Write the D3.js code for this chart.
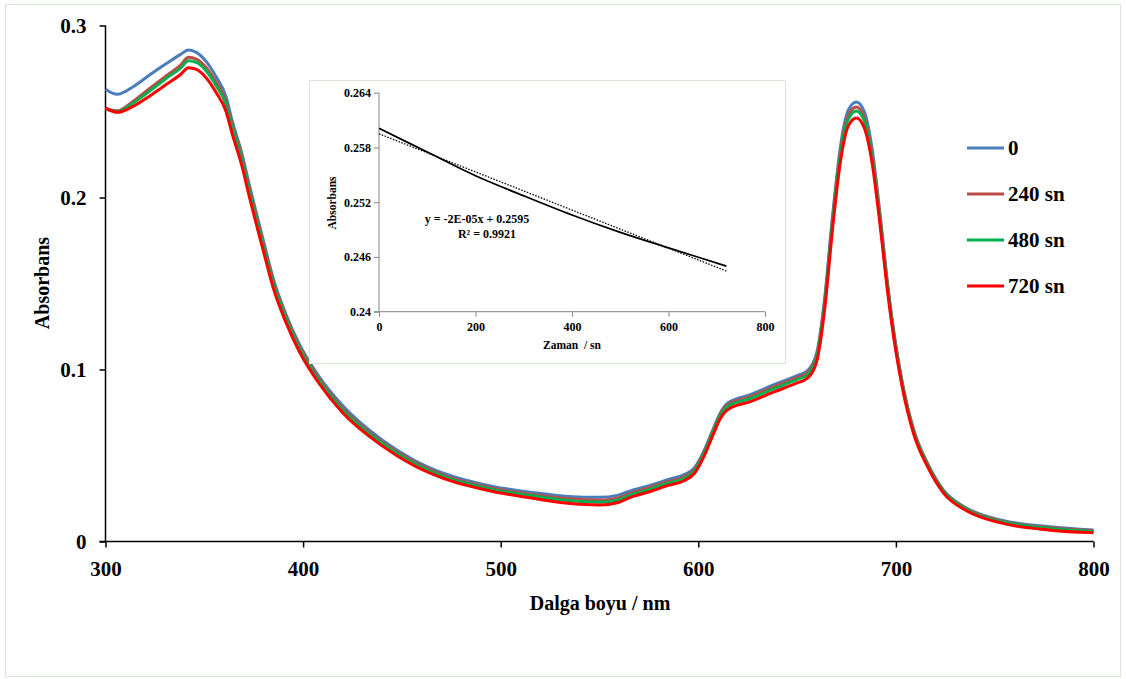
<!DOCTYPE html>
<html>
<head>
<meta charset="utf-8">
<script src="https://cdn.jsdelivr.net/npm/d3@7"></script>
<style>
  body { margin: 0; background: #fff; }
  svg text { font-family: "Liberation Serif", "Times New Roman", serif; font-weight: bold; fill: #000; }
</style>
</head>
<body>
<div id="chart"></div>
<script>
// wavelengths (nm)
var wavelengths = [300, 306, 314, 323, 331, 338, 342, 346, 351, 356, 361, 364, 369, 373, 377, 381, 385, 391, 398, 408,
    420, 440, 456, 471, 496, 517, 534, 550, 559, 567, 576, 584, 593, 598, 603, 608, 611, 615, 626, 638,
    650, 655, 660, 664, 668, 672, 676, 680, 684, 688, 692, 696, 700, 703, 709, 716, 724, 736, 753, 778, 800];

// absorbance, one array per time
var abs0 = [.2630, .2600, .2644, .2718, .2780, .2832, .2858, .2844, .2790, .2702, .2586, .2451, .2257, .2063, .1880, .1700, .1525, .1330, .1150, .0960,
    .0790, .0590, .0474, .0397, .0320, .0284, .0262, .0257, .0268, .0300, .0328, .0358, .0390, .0428, .0530, .0667, .0745, .0805, .0852, .0910,
    .0965, .0990, .1100, .1420, .1900, .2300, .2510, .2555, .2500, .2280, .1900, .1480, .1140, .0940, .0650, .0455, .0300, .0193, .0125, .0086, .0067];
var abs240 = [.2518, .2505, .2560, .2640, .2710, .2770, .2815, .2805, .2755, .2670, .2560, .2430, .2238, .2045, .1862, .1683, .1510, .1318, .1138, .0947,
    .0775, .0578, .0463, .0386, .0310, .0272, .0248, .0240, .0252, .0286, .0316, .0346, .0378, .0418, .0522, .0660, .0737, .0795, .0840, .0898,
    .0953, .0978, .1085, .1400, .1880, .2275, .2480, .2526, .2465, .2250, .1880, .1465, .1130, .0932, .0643, .0450, .0296, .0189, .0120, .0080, .0062];
var abs480 = [.2515, .2500, .2550, .2625, .2695, .2752, .2795, .2785, .2735, .2650, .2540, .2412, .2220, .2028, .1845, .1668, .1496, .1305, .1126, .0937,
    .0765, .0570, .0455, .0379, .0303, .0264, .0238, .0228, .0240, .0276, .0306, .0337, .0369, .0409, .0514, .0652, .0728, .0786, .0830, .0887,
    .0942, .0968, .1072, .1385, .1860, .2255, .2458, .2503, .2445, .2232, .1865, .1455, .1122, .0925, .0638, .0446, .0292, .0185, .0116, .0076, .0058];
var abs720 = [.2520, .2495, .2530, .2595, .2660, .2715, .2755, .2745, .2695, .2610, .2500, .2375, .2185, .1995, .1815, .1640, .1470, .1282, .1106, .0920,
    .0748, .0556, .0442, .0367, .0291, .0250, .0222, .0212, .0225, .0262, .0292, .0323, .0355, .0395, .0498, .0635, .0712, .0768, .0812, .0868,
    .0922, .0948, .1050, .1355, .1825, .2215, .2418, .2462, .2405, .2198, .1838, .1432, .1105, .0910, .0625, .0435, .0283, .0177, .0108, .0066, .0051];

var seriesNames = ["0", "240 sn", "480 sn", "720 sn"];
var seriesColors = ["#4a7ebb", "#be4b48", "#00b050", "#ff0000"];
var xTicks = [300, 400, 500, 600, 700, 800];
var yTicks = [0, 0.1, 0.2, 0.3];

// inset: absorbance vs time
var insetTime = [0, 100, 200, 300, 400, 500, 600, 720];
var insetAbs = [0.2601, 0.2575, 0.2549, 0.2527, 0.2506, 0.2487, 0.2470, 0.2450];
var trendIntercept = 0.2595, trendSlope = -0.0000209;
var insetXTicks = [0, 200, 400, 600, 800];
var insetYTicks = [0.24, 0.246, 0.252, 0.258, 0.264];

var W = 1126, H = 679;
var svg = d3.select("#chart").append("svg").attr("width", W).attr("height", H);

svg.append("rect")
    .attr("x", 5.5).attr("y", 4.5).attr("width", 1115).attr("height", 672)
    .attr("fill", "#fff").attr("stroke", "#dbe6d4").attr("stroke-width", 1);

var x = d3.scaleLinear().domain([300, 800]).range([105.5, 1093.5]);
var y = d3.scaleLinear().domain([0, 0.3]).range([541.5, 25.5]);

// axes
var yAxis = svg.append("g").attr("transform", "translate(105.5,0)")
    .call(d3.axisLeft(y).tickValues(yTicks).tickSize(6).tickPadding(13)
        .tickFormat(function (d) { return d === 0 ? "0" : d3.format(".1f")(d); }));
var xAxis = svg.append("g").attr("transform", "translate(0,541.5)")
    .call(d3.axisBottom(x).tickValues(xTicks).tickSize(6).tickPadding(14).tickFormat(d3.format("d")));
[xAxis, yAxis].forEach(function (g) {
    g.select(".domain").attr("stroke", "#000").attr("stroke-width", 1.5);
    g.selectAll(".tick line").attr("stroke", "#000").attr("stroke-width", 1.5);
    g.selectAll(".tick text").style("font-size", "21px");
});
yAxis.select(".domain").attr("d", "M0,25.5V541.5");
xAxis.select(".domain").attr("d", "M99.5,0H1093.5");

svg.append("text").attr("transform", "translate(49,283) rotate(-90)")
    .attr("text-anchor", "middle").style("font-size", "20px").text("Absorbans");
svg.append("text").attr("x", 600).attr("y", 610)
    .attr("text-anchor", "middle").style("font-size", "20px").text("Dalga boyu / nm");

// spectra
var allAbs = [abs0, abs240, abs480, abs720];
var line = d3.line()
    .x(function (d) { return x(d[0]); })
    .y(function (d) { return y(d[1]); })
    .curve(d3.curveMonotoneX);
allAbs.forEach(function (vals, i) {
    var pts = wavelengths.map(function (w, j) { return [w, vals[j]]; });
    svg.append("path").datum(pts)
        .attr("d", line)
        .attr("fill", "none")
        .attr("stroke", seriesColors[i])
        .attr("stroke-width", 3)
        .attr("stroke-linejoin", "round");
});

// legend
var legend = svg.append("g");
seriesNames.forEach(function (name, i) {
    var ly = 148 + i * 46;
    legend.append("line").attr("x1", 967).attr("x2", 1004).attr("y1", ly).attr("y2", ly)
        .attr("stroke", seriesColors[i]).attr("stroke-width", 3);
    legend.append("text").attr("x", 1008).attr("y", ly + 7).style("font-size", "21px").text(name);
});

// INSET
var inset = svg.append("g");
inset.append("rect").attr("x", 309.5).attr("y", 80.5).attr("width", 476).attr("height", 283)
    .attr("fill", "#fff").attr("stroke", "#dbe6d4").attr("stroke-width", 1);

var ix = d3.scaleLinear().domain([0, 800]).range([379, 765]);
var iy = d3.scaleLinear().domain([0.24, 0.264]).range([311.7, 92.7]);

var iyAxis = inset.append("g").attr("transform", "translate(379,0)")
    .call(d3.axisLeft(iy).tickValues(insetYTicks).tickSize(5).tickPadding(3)
        .tickFormat(function (d) { return d3.format(".3~f")(d); }));
var ixAxis = inset.append("g").attr("transform", "translate(0,311.7)")
    .call(d3.axisBottom(ix).tickValues(insetXTicks).tickSize(5).tickPadding(6).tickFormat(d3.format("d")));
[iyAxis, ixAxis].forEach(function (g) {
    g.select(".domain").attr("stroke", "#868686").attr("stroke-width", 1);
    g.selectAll(".tick line").attr("stroke", "#868686").attr("stroke-width", 1);
    g.selectAll(".tick text").style("font-size", "12px");
});
iyAxis.select(".domain").attr("d", "M0,92.7V311.7");
ixAxis.select(".domain").attr("d", "M374,0H765");

inset.append("text").attr("transform", "translate(336,203) rotate(-90)")
    .attr("text-anchor", "middle").style("font-size", "11.5px").text("Absorbans");
inset.append("text").attr("x", 572).attr("y", 349)
    .attr("text-anchor", "middle").style("font-size", "11.5px").attr("xml:space", "preserve").text("Zaman  / sn");

var iline = d3.line()
    .x(function (d, j) { return ix(insetTime[j]); })
    .y(function (d) { return iy(d); })
    .curve(d3.curveCatmullRom);
inset.append("path").datum(insetAbs).attr("d", iline)
    .attr("fill", "none").attr("stroke", "#000").attr("stroke-width", 1.8);

var tEnd = insetTime[insetTime.length - 1];
inset.append("line")
    .attr("x1", ix(0)).attr("y1", iy(trendIntercept))
    .attr("x2", ix(tEnd)).attr("y2", iy(trendIntercept + trendSlope * tEnd))
    .attr("stroke", "#000").attr("stroke-width", 1.3).attr("stroke-dasharray", "1.5,1.5");

inset.append("text").attr("x", 477).attr("y", 223).attr("text-anchor", "middle")
    .style("font-size", "12px").text("y = -2E-05x + 0.2595");
inset.append("text").attr("x", 487).attr("y", 238).attr("text-anchor", "middle")
    .style("font-size", "12px").text("R² = 0.9921");
</script>
</body>
</html>
